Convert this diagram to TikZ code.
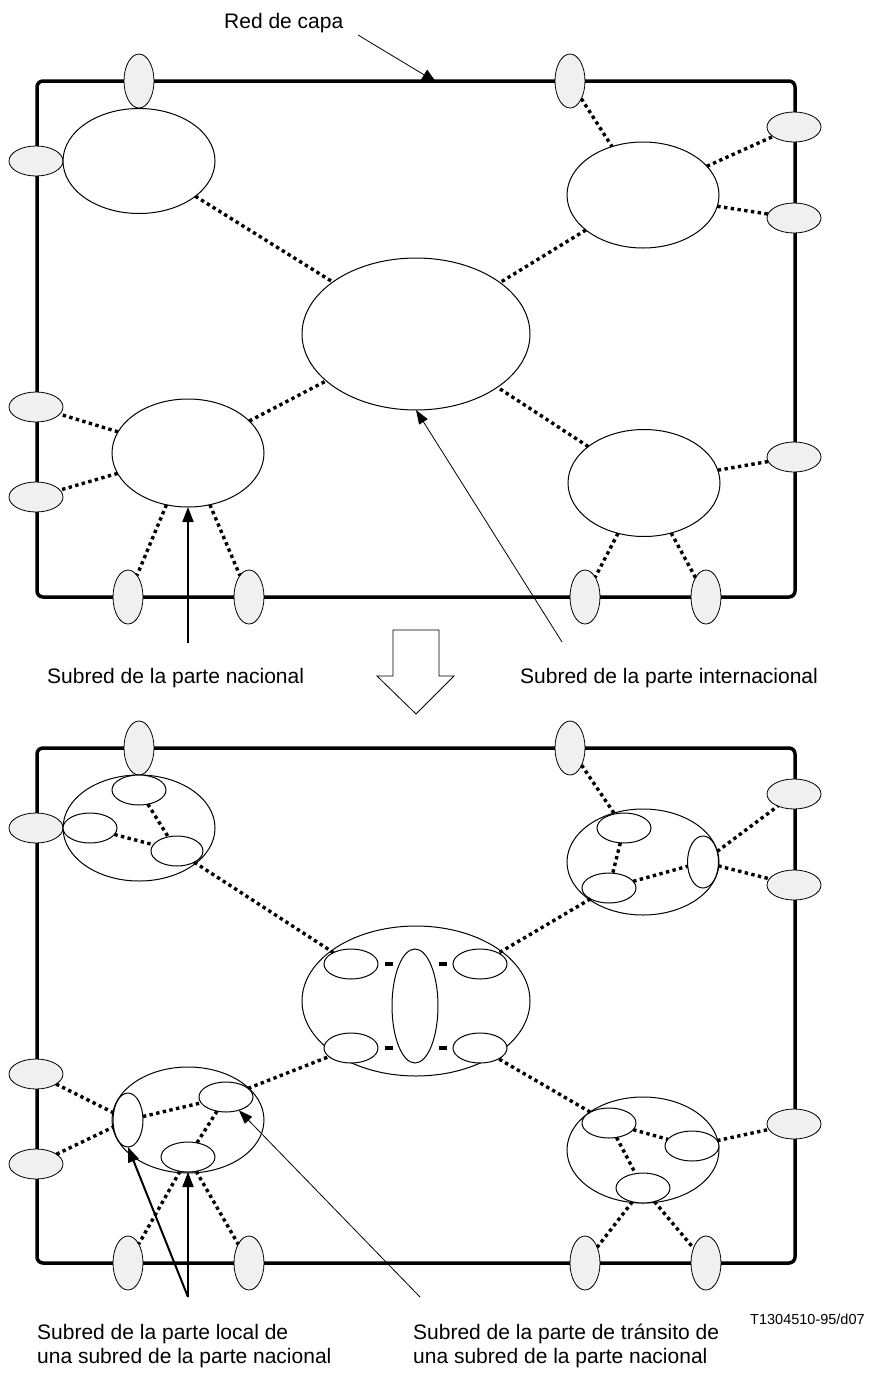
\documentclass[tikz,border=0pt]{standalone}
\usepackage{fontspec}
\setmainfont{Liberation Sans}
\usetikzlibrary{shapes.geometric,arrows.meta}
\definecolor{portgray}{HTML}{F0F0F0}
\tikzset{
  frame/.style={line width=3.5pt, rounded corners=6pt},
  port/.style={ellipse, draw, line width=0.8pt, fill=portgray, inner sep=0pt, outer sep=0pt},
  hport/.style={port, minimum width=54pt, minimum height=30pt},
  vport/.style={port, minimum width=30pt, minimum height=54pt},
  sub/.style={ellipse, draw, line width=1pt, fill=white, inner sep=0pt, outer sep=0pt},
  link/.style={line width=3.4pt, dash pattern=on 3.4pt off 3.4pt},
  bar/.style={line width=4pt},
  lbl/.style={inner sep=0pt, font=\fontsize{21pt}{24pt}\selectfont},
  bold arrow/.style={line width=2pt, -{Triangle[length=15pt,width=11pt]}},
  thin arrow/.style={line width=0.8pt, -{Triangle[length=14pt,width=10pt]}},
}
\begin{document}
\begin{tikzpicture}[x=1pt,y=-1pt]
\useasboundingbox (0,0) rectangle (877,1374);

% ---------------- upper network ----------------
\draw[frame] (37,81) rectangle (795,597);

\node[vport] (p1) at (139,81) {};
\node[vport] (p2) at (570,81) {};
\node[hport] (p3) at (36,161) {};
\node[hport] (p4) at (794,127) {};
\node[hport] (p5) at (794,218) {};
\node[hport] (p6) at (36,407) {};
\node[hport] (p7) at (36,497) {};
\node[hport] (p8) at (794,457) {};
\node[vport] (p9) at (128,597) {};
\node[vport] (p10) at (249,597) {};
\node[vport] (p11) at (585,597) {};
\node[vport] (p12) at (706,597) {};

\node[sub, minimum width=152pt, minimum height=105pt] (tl) at (139,161) {};
\node[sub, minimum width=152pt, minimum height=106pt] (tr) at (643,195) {};
\node[sub, minimum width=228pt, minimum height=152pt] (ce) at (416,334) {};
\node[sub, minimum width=152pt, minimum height=108pt] (bl) at (188,453) {};
\node[sub, minimum width=152pt, minimum height=107pt] (br) at (644,483) {};

\draw[link] (tl) -- (ce);
\draw[link] (tr) -- (ce);
\draw[link] (bl) -- (ce);
\draw[link] (br) -- (ce);
\draw[link] (p2) -- (tr);
\draw[link] (tr) -- (p4);
\draw[link] (tr) -- (p5);
\draw[link] (bl) -- (p6);
\draw[link] (bl) -- (p7);
\draw[link] (bl) -- (p9);
\draw[link] (bl) -- (p10);
\draw[link] (br) -- (p8);
\draw[link] (br) -- (p11);
\draw[link] (br) -- (p12);

% labels of the upper network
\node[lbl, anchor=base west] (redcapa) at (224,28) {Red de capa};
\coordinate (framehit) at (436,82);
\draw[line width=0.8pt, -{Triangle[length=14pt,width=12pt]}] (358,35) -- (framehit);

\node[lbl, anchor=base west] (nac) at (47,683) {Subred de la parte nacional};
\coordinate (nacfoot) at (188,643);
\draw[bold arrow] (nacfoot) -- (bl.south);

\node[lbl, anchor=base west] (intl) at (520,683) {Subred de la parte internacional};
\coordinate (intlfoot) at (562,642);
\draw[thin arrow] (intlfoot) -- (ce.south);

% hollow arrow between the two networks
\draw[line width=0.8pt, fill=white] (393,630) -- (439,630) -- (439,676) -- (454,676)
  -- (416,714) -- (377,676) -- (393,676) -- cycle;

% ---------------- lower network ----------------
\draw[frame] (37,748) rectangle (795,1263);

\node[vport] (q1) at (139,748) {};
\node[vport] (q2) at (570,748) {};
\node[hport] (q3) at (36,828) {};
\node[hport] (q4) at (794,794) {};
\node[hport] (q5) at (794,885) {};
\node[hport] (q6) at (36,1074) {};
\node[hport] (q7) at (36,1164) {};
\node[hport] (q8) at (794,1124) {};
\node[vport] (q9) at (128,1263) {};
\node[vport] (q10) at (249,1263) {};
\node[vport] (q11) at (585,1263) {};
\node[vport] (q12) at (706,1263) {};

% upper left cluster
\node[sub, minimum width=152pt, minimum height=106pt] (A) at (139,828) {};
\node[sub, minimum width=54pt, minimum height=30pt] (Aa) at (139,790) {};
\node[sub, minimum width=54pt, minimum height=30pt] (Ab) at (90,828) {};
\node[sub, minimum width=52pt, minimum height=30pt] (Ac) at (177,851) {};

% upper right cluster
\node[sub, minimum width=152pt, minimum height=106pt] (B) at (643,862) {};
\node[sub, minimum width=54pt, minimum height=30pt] (Ba) at (624,828) {};
\node[sub, minimum width=54pt, minimum height=30pt] (Bb) at (609,888) {};
\node[sub, minimum width=31pt, minimum height=52pt] (Bc) at (703,862) {};

% central cluster
\node[sub, minimum width=228pt, minimum height=150pt] (C) at (416,1001) {};
\node[sub, minimum width=54pt, minimum height=30pt] (Cul) at (351,964) {};
\node[sub, minimum width=54pt, minimum height=30pt] (Cur) at (480,964) {};
\node[sub, minimum width=54pt, minimum height=30pt] (Cll) at (351,1048) {};
\node[sub, minimum width=54pt, minimum height=30pt] (Clr) at (480,1048) {};
\node[sub, minimum width=46pt, minimum height=114pt] (Cv) at (415,1006) {};

% lower left cluster
\node[sub, minimum width=152pt, minimum height=106pt] (D) at (188,1120) {};
\node[sub, minimum width=30pt, minimum height=54pt] (Da) at (128,1120) {};
\node[sub, minimum width=54pt, minimum height=30pt] (Db) at (226,1097) {};
\node[sub, minimum width=54pt, minimum height=30pt] (Dc) at (188,1157) {};

% lower right cluster
\node[sub, minimum width=152pt, minimum height=106pt] (E) at (643,1150) {};
\node[sub, minimum width=54pt, minimum height=30pt] (Ea) at (609,1123) {};
\node[sub, minimum width=54pt, minimum height=30pt] (Eb) at (692,1146) {};
\node[sub, minimum width=54pt, minimum height=30pt] (Ec) at (643,1188) {};

% links inside clusters
\draw[link] (Aa) -- (Ac);
\draw[link] (Ab) -- (Ac);
\draw[link] (Ba) -- (Bb);
\draw[link] (Bb) -- (Bc);
\draw[link] (Da) -- (Db);
\draw[link] (Db) -- (Dc);
\draw[link] (Ea) -- (Eb);
\draw[link] (Ea) -- (Ec);

% short horizontal links around the central transit subnetwork
\draw[bar, shorten <=7pt, shorten >=-1pt] (Cul.east) -- (Cul.east -| Cv.west);
\draw[bar, shorten <=1pt, shorten >=6pt] (Cur.west -| Cv.east) -- (Cur.west);
\draw[bar, shorten <=7pt, shorten >=-1pt] (Cll.east) -- (Cll.east -| Cv.west);
\draw[bar, shorten <=1pt, shorten >=6pt] (Clr.west -| Cv.east) -- (Clr.west);

% links between clusters
\draw[link] (Ac) -- (Cul);
\draw[link] (Bb) -- (Cur);
\draw[link] (Db) -- (Cll);
\draw[link] (Ea) -- (Clr);

% links to access points
\draw[link] (q2) -- (Ba);
\draw[link] (Bc) -- (q4);
\draw[link] (Bc) -- (q5);
\draw[link] (q6) -- (Da);
\draw[link] (q7) -- (Da);
\draw[link] (Dc) -- (q9);
\draw[link] (Dc) -- (q10);
\draw[link] (Eb) -- (q8);
\draw[link] (Ec) -- (q11);
\draw[link] (Ec) -- (q12);

% labels of the lower network
\coordinate (localfoot) at (188,1297);
\draw[bold arrow] (localfoot) -- (Da.south);
\draw[bold arrow] (localfoot) -- (Dc.south);
\coordinate (transitfoot) at (420,1297);
\draw[thin arrow] (transitfoot) -- (Db);

\node[lbl, anchor=north west, align=left] (local) at (37,1324)
  {Subred de la parte local de\\una subred de la parte nacional};
\node[lbl, anchor=north west, align=left] (transit) at (413,1324)
  {Subred de la parte de tránsito de\\una subred de la parte nacional};
\node[inner sep=0pt, anchor=base west, font=\fontsize{14.5pt}{17pt}\selectfont] (ref) at (750,1324)
  {T1304510-95/d07};
\end{tikzpicture}
\end{document}
